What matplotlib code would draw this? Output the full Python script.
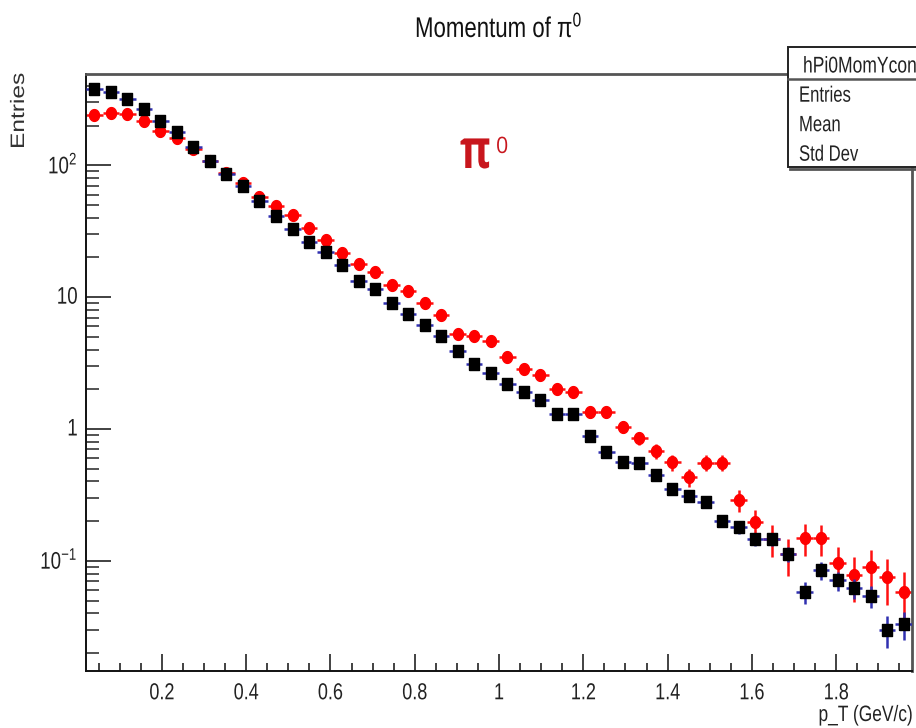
import numpy as np
import matplotlib
matplotlib.use("Agg")
import matplotlib.pyplot as plt
from matplotlib.patches import Rectangle
from matplotlib.lines import Line2D
from matplotlib.transforms import Affine2D
from matplotlib.patheffects import AbstractPathEffect
from matplotlib.ticker import FixedLocator, FixedFormatter, LogLocator, NullFormatter, MultipleLocator

# histogram binning (p_T axis)
x_lo, x_hi, n_bins = 0.02, 1.98, 50

# black squares (blue error bars)
black_vals = [380, 361, 318, 267, 217, 178, 138, 108, 86, 70,
              54, 41, 33, 26.3, 22.1, 17.5, 13.2, 11.5, 9.0, 7.4,
              6.1, 5.1, 3.9, 3.1, 2.67, 2.19, 1.92, 1.66, 1.30, 1.30,
              0.89, 0.67, 0.56, 0.55, 0.45, 0.35, 0.31, 0.28, 0.20, 0.18,
              0.147, 0.147, 0.113, 0.058, 0.085, 0.071, 0.062, 0.054, 0.030, 0.033]
black_errs = [0.87, 0.85, 0.80, 0.73, 0.66, 0.60, 0.53, 0.46, 0.41, 0.37,
              0.33, 0.29, 0.26, 0.23, 0.21, 0.19, 0.16, 0.15, 0.134, 0.122,
              0.110, 0.101, 0.088, 0.079, 0.073, 0.066, 0.062, 0.058, 0.051, 0.051,
              0.042, 0.037, 0.033, 0.033, 0.030, 0.026, 0.025, 0.024, 0.020, 0.019,
              0.017, 0.017, 0.015, 0.011, 0.013, 0.012, 0.011, 0.010, 0.008, 0.008]

# red circles
red_vals = [241, 248, 245, 218, 182, 162, 133, 108, 87, 73,
            58, 49, 42, 33.3, 27.1, 21.7, 18.0, 15.6, 12.4, 11.1,
            9.07, 7.3, 5.25, 5.06, 4.66, 3.53, 2.83, 2.56, 2.00, 1.92,
            1.34, 1.34, 1.04, 0.85, 0.68, 0.56, 0.43, 0.555, 0.555, 0.29,
            0.198, 0.147, 0.112, 0.150, 0.148, 0.096, 0.078, 0.090, 0.075, 0.058]
red_errs = [1.63, 1.65, 1.64, 1.55, 1.41, 1.33, 1.21, 1.09, 0.98, 0.90,
            0.80, 0.73, 0.68, 0.61, 0.55, 0.49, 0.44, 0.41, 0.37, 0.35,
            0.32, 0.28, 0.24, 0.24, 0.23, 0.20, 0.18, 0.17, 0.15, 0.145,
            0.12, 0.12, 0.107, 0.097, 0.086, 0.078, 0.069, 0.078, 0.078, 0.056,
            0.047, 0.040, 0.035, 0.041, 0.040, 0.032, 0.029, 0.031, 0.029, 0.025]

x_ticks = [0.2, 0.4, 0.6, 0.8, 1.0, 1.2, 1.4, 1.6, 1.8]
x_tick_text = ["0.2", "0.4", "0.6", "0.8", "1", "1.2", "1.4", "1.6", "1.8"]
y_ticks = [0.1, 1, 10, 100]
y_tick_text = [r"$10^{-1}$", "1", "10", r"$10^{2}$"]

stat_rows = ["Entries", "Mean", "Std Dev"]


class Stretch(AbstractPathEffect):
    """Scale glyphs in the text's own frame (narrow, tall lettering)."""

    def __init__(self, sx=1.0, sy=1.28):
        super().__init__()
        self._sx, self._sy = sx, sy

    def draw_path(self, renderer, gc, tpath, affine, rgbFace=None):
        renderer.draw_path(gc, tpath, Affine2D().scale(self._sx, self._sy) + affine, rgbFace)


TALL = [Stretch(1.0, 1.28)]

plt.rcParams["font.family"] = ["Liberation Sans", "DejaVu Sans"]
plt.rcParams["mathtext.fontset"] = "custom"
plt.rcParams["mathtext.rm"] = "Liberation Sans"
plt.rcParams["mathtext.it"] = "Liberation Sans:italic"

W, H = 916, 728
fig = plt.figure(figsize=(W / 100, H / 100), dpi=100)
ax = fig.add_axes([86 / W, 1 - 671 / H, (912 - 86) / W, (671 - 74) / H])

edges = np.linspace(x_lo, x_hi, n_bins + 1)
centers = 0.5 * (edges[:-1] + edges[1:])
half_w = (x_hi - x_lo) / n_bins / 2

# slightly tall markers
t = np.linspace(0, 2 * np.pi, 41)
ellipse = list(zip(0.85 * np.cos(t), np.sin(t)))
rect = [(-0.8, -1), (0.8, -1), (0.8, 1), (-0.8, 1), (-0.8, -1)]

ax.errorbar(centers, red_vals, xerr=half_w, yerr=red_errs, fmt="none",
            ecolor="#ff1010", elinewidth=1.8, capsize=0, zorder=2)
ax.plot(centers, red_vals, ls="none", marker=ellipse, ms=8.5, color="#ff0000",
        mec="#ff0000", zorder=3)
ax.errorbar(centers, black_vals, xerr=half_w, yerr=black_errs, fmt="none",
            ecolor="#3030b0", elinewidth=1.8, capsize=0, zorder=4)
ax.plot(centers, black_vals, ls="none", marker=rect, ms=8.8, color="black",
        mec="black", zorder=5)

ax.set_yscale("log")
ax.set_xlim(x_lo, x_hi)
ax.set_ylim(0.0146, 493)

ax.xaxis.set_major_locator(FixedLocator(x_ticks))
ax.xaxis.set_major_formatter(FixedFormatter(x_tick_text))
ax.xaxis.set_minor_locator(MultipleLocator(0.05))
ax.yaxis.set_major_locator(FixedLocator(y_ticks))
ax.yaxis.set_major_formatter(FixedFormatter(y_tick_text))
ax.yaxis.set_minor_locator(LogLocator(base=10, subs=range(2, 10)))
ax.yaxis.set_minor_formatter(NullFormatter())

ax.tick_params(axis="x", which="major", direction="in", length=12, width=1.2,
               labelsize=13, pad=11, color="#222222")
ax.tick_params(axis="x", which="minor", direction="in", length=6, width=1.2, color="#222222")
ax.tick_params(axis="y", which="major", direction="in", length=18, width=1.3,
               labelsize=13.5, pad=6, color="#333333")
ax.tick_params(axis="y", which="minor", direction="in", length=9, width=1.3, color="#444444")
ax.tick_params(top=False, right=False)

for lbl in ax.get_xticklabels() + ax.get_yticklabels():
    lbl.set_path_effects(TALL)
    lbl.set_color("#222222")

for side in ("left", "bottom"):
    ax.spines[side].set_linewidth(1.4)
    ax.spines[side].set_color("#111111")
for side in ("top", "right"):
    ax.spines[side].set_linewidth(2.0)
    ax.spines[side].set_color("#555555")

fig.text(415 / W, 1 - 37 / H, r"Momentum of $\mathrm{\pi}^{0}$", fontsize=16, ha="left",
         va="baseline", color="#111111", path_effects=TALL)
fig.text(28 / W, 1 - 149 / H, "Entries", rotation=90, fontsize=14, ha="right",
         va="bottom", color="#333333", path_effects=[Stretch(1.26, 1.0)])
fig.text(913 / W, 1 - 721 / H, "p_T (GeV/c)", fontsize=12.5, ha="right",
         va="baseline", color="#222222", path_effects=TALL)

# particle label
fig.text(460 / W, 1 - 168 / H, "π", fontsize=30, fontweight="bold", color="#c8161d",
         family=["Open Sans", "DejaVu Sans"], ha="left", va="baseline",
         path_effects=[Stretch(1.0, 1.3)])
fig.text(496 / W, 1 - 153 / H, "0", fontsize=15.5, color="#c8161d",
         family=["Open Sans", "DejaVu Sans"], ha="left", va="baseline",
         path_effects=[Stretch(1.0, 1.05)])

# statistics box (runs off the right edge)
bx0, by0, by1 = 788 / W, 1 - 167 / H, 1 - 47 / H
fig.patches.append(Rectangle((bx0, by0), 0.3, by1 - by0, transform=fig.transFigure,
                             facecolor="white", edgecolor="#222222", lw=1.4, zorder=10))
fig.lines.append(Line2D([bx0, 1.0], [1 - 79 / H] * 2, transform=fig.transFigure,
                        color="#555555", lw=1.8, zorder=11))
fig.lines.append(Line2D([bx0 + 2 / W, 1.0], [by0 - 1.5 / H] * 2, transform=fig.transFigure,
                        color="#555555", lw=2.0, zorder=11))
fig.text(803 / W, 1 - 72.5 / H, "hPi0MomYcon", fontsize=12.6, ha="left", va="baseline",
         color="#222222", zorder=12, path_effects=[Stretch(1.0, 1.3)])
for k, row in enumerate(stat_rows):
    fig.text(799 / W, 1 - (101.7 + 29.5 * k) / H, row, fontsize=12, ha="left",
             va="baseline", color="#222222", zorder=12, path_effects=[Stretch(1.0, 1.33)])

fig.savefig("out.png", dpi=100)
